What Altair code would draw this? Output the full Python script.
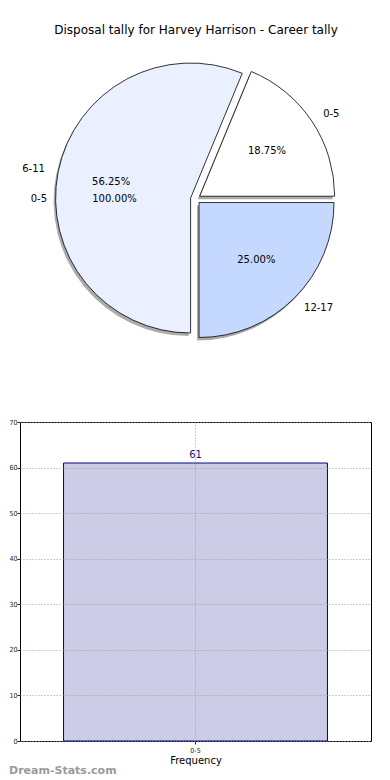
import math
import altair as alt
import pandas as pd

# ---------------- data ----------------
title_text = "Disposal tally for Harvey Harrison - Career tally"

pie_labels = ["0-5", "6-11", "12-17"]          # counter-clockwise from 3 o'clock
pie_counts = [3, 9, 4]
pie_colors = ["#ffffff", "#eaf0ff", "#c5d8ff"]

overlay_labels = ["0-5"]
overlay_counts = [61]

bar_categories = ["0-5"]
bar_values = [61]
y_ticks = [0, 10, 20, 30, 40, 50, 60, 70]
x_title = "Frequency"
watermark = "Dream-Stats.com"

# ---------------- style constants ----------------
FONT = "DejaVu Sans"
TICKFONT = "DejaVu Sans Condensed"
CX, CY = 175.5, 190.0     # pie centre inside the pie panel (pixels)
R = 135                    # pie radius
EXPLODE = 5
PANEL_W = 351
PIE_H = 403
BAR_H = 319

pie_df = pd.DataFrame({"label": pie_labels, "n": pie_counts, "order": list(range(len(pie_labels)))})
ov_df = pd.DataFrame({"label": overlay_labels, "n": overlay_counts, "order": list(range(len(overlay_labels)))})
bar_df = pd.DataFrame({"cat": bar_categories, "value": bar_values})


def wedges(df, explode):
    # matplotlib-style angles (ccw from 3 o'clock) converted to Vega angles (cw from 12)
    return (
        alt.Chart(df)
        .transform_joinaggregate(total="sum(n)")
        .transform_window(cum="sum(n)", sort=[alt.SortField("order")])
        .transform_calculate(
            m0="2*PI*(datum.cum - datum.n)/datum.total",
            m1="2*PI*datum.cum/datum.total",
        )
        .transform_calculate(
            t0="PI/2 - datum.m1",
            t1="PI/2 - datum.m0",
            mm="(datum.m0 + datum.m1)/2",
        )
        .transform_calculate(
            px=f"{CX} + {explode}*cos(datum.mm)",
            py=f"{CY} - {explode}*sin(datum.mm)",
            pct="format(100*datum.n/datum.total, '.2f') + '%'",
        )
        .transform_calculate(
            ix=f"datum.px + {0.6 * R}*cos(datum.mm)",
            iy=f"datum.py - {0.6 * R}*sin(datum.mm)",
            ox=f"datum.px + {1.1 * R}*cos(datum.mm)",
            oy=f"datum.py - {1.1 * R}*sin(datum.mm)",
            right="cos(datum.mm) >= 0 ? 1 : 0",
        )
    )


pie_base = wedges(pie_df, EXPLODE)
ov_base = wedges(ov_df, 0)

arc_enc = dict(
    theta=alt.Theta("t0:Q", scale=None),
    theta2="t1:Q",
    x=alt.X("px:Q", scale=None),
    y=alt.Y("py:Q", scale=None),
)

shadow = pie_base.mark_arc(radius=R, xOffset=-2, yOffset=3, fill="#666666", fillOpacity=0.55).encode(**arc_enc)
arcs = pie_base.mark_arc(radius=R, stroke="black", strokeWidth=0.8).encode(
    fill=alt.Fill("label:N", scale=alt.Scale(domain=pie_labels, range=pie_colors), legend=None),
    **arc_enc,
)


def texts(base):
    inner = base.mark_text(font=FONT, fontSize=10, color="black", align="center", baseline="middle").encode(
        x=alt.X("ix:Q", scale=None), y=alt.Y("iy:Q", scale=None), text="pct:N"
    )
    out_r = base.transform_filter("datum.right == 1").mark_text(
        font=FONT, fontSize=10, color="black", align="left", baseline="middle"
    ).encode(x=alt.X("ox:Q", scale=None), y=alt.Y("oy:Q", scale=None), text="label:N")
    out_l = base.transform_filter("datum.right == 0").mark_text(
        font=FONT, fontSize=10, color="black", align="right", baseline="middle"
    ).encode(x=alt.X("ox:Q", scale=None), y=alt.Y("oy:Q", scale=None), text="label:N")
    return [inner, out_r, out_l]


title_mark = alt.Chart(pd.DataFrame({"t": [title_text]})).mark_text(
    font=FONT, fontSize=12, color="black", align="center", baseline="middle"
).encode(x=alt.value(176), y=alt.value(21), text="t:N")

pie = alt.layer(shadow, arcs, *texts(pie_base), *texts(ov_base), title_mark).properties(
    width=PANEL_W, height=PIE_H
)

# ---------------- bar chart ----------------
xenc = alt.X(
    "cat:N",
    scale=alt.Scale(paddingInner=0, paddingOuter=0.165),
    axis=alt.Axis(
        title=x_title, labelAngle=0, labelFont=TICKFONT, labelFontSize=7, labelColor="#222222", tickSize=3,
        labelPadding=2, titleFontSize=10, titleFontWeight="normal", titleColor="black",
        titlePadding=2, domain=False, grid=True, gridDash=[1, 2], gridColor="#a0a0a0",
        tickColor="#222222", zindex=1,
    ),
)
yenc = alt.Y(
    "value:Q",
    scale=alt.Scale(domain=[0, 70], nice=False),
    axis=alt.Axis(
        title=None, values=y_ticks, labelFont=TICKFONT, labelFontSize=7, labelColor="#222222", tickSize=3,
        labelPadding=0, domain=False, grid=True, gridDash=[1, 2], gridColor="#a0a0a0",
        tickColor="#222222", minExtent=11, maxExtent=11, zindex=1,
    ),
)

bars = alt.Chart(bar_df).mark_bar(fill="#cccce6", stroke="#00008b", strokeWidth=1).encode(x=xenc, y=yenc)
bar_label = alt.Chart(bar_df).mark_text(
    font=FONT, fontSize=10, color="#151570", baseline="bottom", dy=-3
).encode(x="cat:N", y="value:Q", text="value:Q")
wm = alt.Chart(pd.DataFrame({"w": [watermark]})).mark_text(
    font=FONT, fontSize=11, fontWeight="bold", color="#9a9a9a", align="left", baseline="middle"
).encode(x=alt.value(-11), y=alt.value(349), text="w:N")

bar = alt.layer(bars, bar_label, wm).properties(
    width=PANEL_W, height=BAR_H, view=alt.ViewBackground(stroke="black", strokeWidth=1)
)

chart = (
    alt.vconcat(pie, bar, spacing=10, bounds="flush")
    .properties(padding=0)
    .configure(font=FONT)
    .configure_view(stroke="transparent")
)

chart.save("out.html", embed_options={"renderer": "svg", "actions": False})
